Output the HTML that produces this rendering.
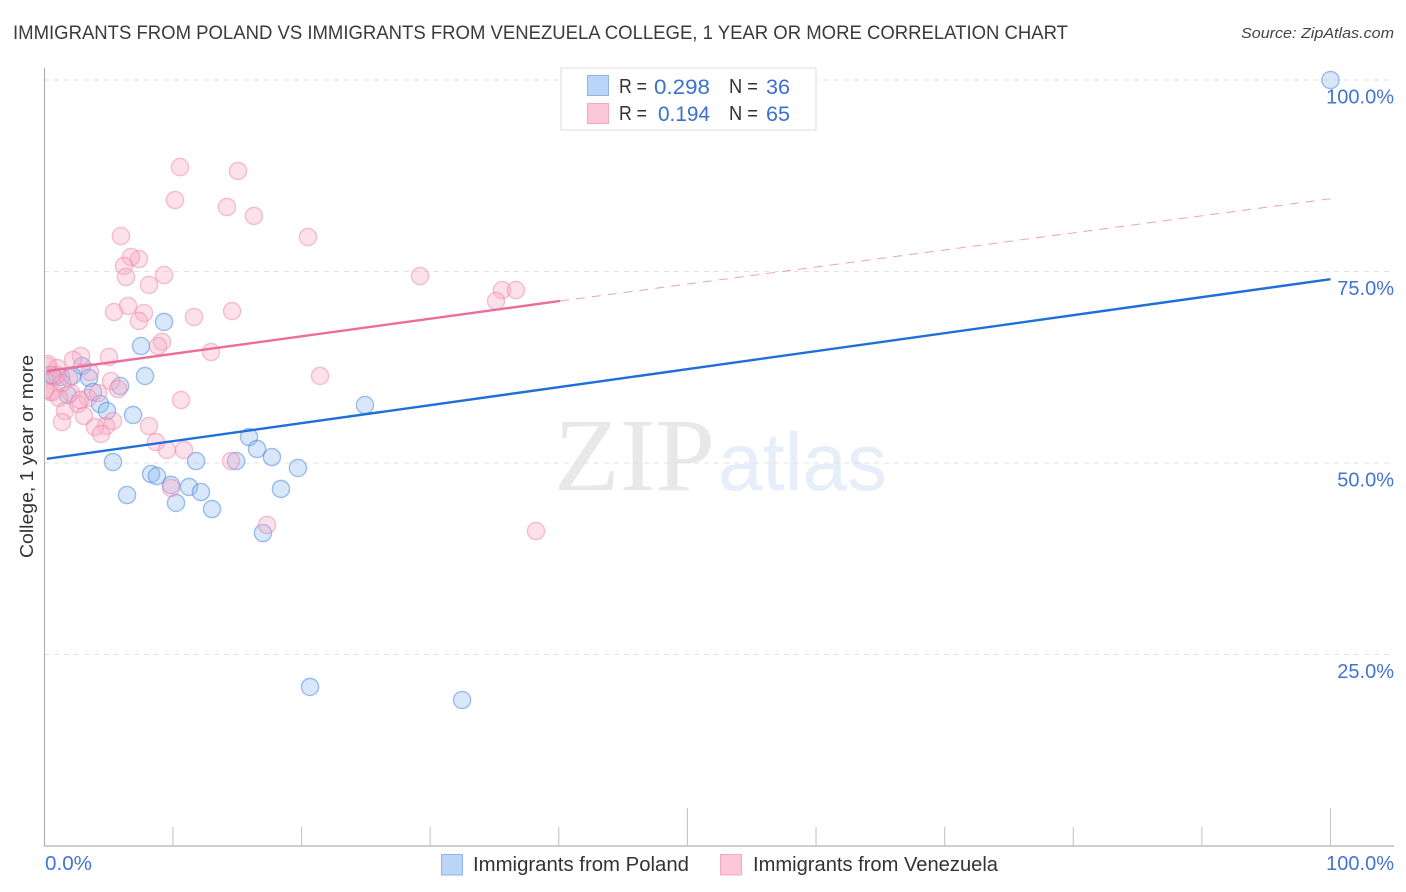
<!DOCTYPE html>
<html lang="en">
<head>
<meta charset="utf-8">
<title>Immigrants from Poland vs Immigrants from Venezuela College Correlation Chart</title>
<style>
  html, body { margin: 0; padding: 0; background: #fff; }
  body { width: 1406px; height: 892px; overflow: hidden; }
  svg { display: block; font-family: "Liberation Sans", sans-serif; }
  .tick-label { fill: #4474d2; font-size: 20px; }
  .legend-text { fill: #333; font-size: 20px; }
  .legend-value { fill: #3a70d0; font-size: 21px; }
</style>
</head>
<body>
<svg id="chart" width="1406" height="892" viewBox="0 0 1406 892" xmlns="http://www.w3.org/2000/svg">
  <defs>
    <clipPath id="plot-clip"><rect x="45.5" y="60" width="1349" height="786"/></clipPath>
  </defs>
  <text x="13" y="39" font-size="19" fill="#3a3a3a" textLength="1055" lengthAdjust="spacingAndGlyphs">IMMIGRANTS FROM POLAND VS IMMIGRANTS FROM VENEZUELA COLLEGE, 1 YEAR OR MORE CORRELATION CHART</text>
  <text x="1241" y="38" font-size="15" font-style="italic" fill="#444" textLength="153" lengthAdjust="spacingAndGlyphs">Source: ZipAtlas.com</text>

  <g id="watermark">
    <text x="554" y="490" font-family="'Liberation Serif', serif" font-size="104" fill="#e8e8e8" textLength="161" lengthAdjust="spacingAndGlyphs">ZIP</text>
    <text x="718" y="490" font-size="82" fill="#e6eefa" textLength="169" lengthAdjust="spacingAndGlyphs">atlas</text>
  </g>

  <g id="grid"></g>
  <g id="axes"></g>
  <g id="points" clip-path="url(#plot-clip)"></g>
  <g id="trends"></g>
  <g id="labels"></g>

  <text transform="translate(33,558) rotate(-90)" font-size="18.5" fill="#333" textLength="203" lengthAdjust="spacingAndGlyphs">College, 1 year or more</text>

  <g>
    <rect x="561" y="68" width="255" height="62" fill="#fff" stroke="#ddd" stroke-width="1"/>
    <rect x="587.5" y="75.5" width="21" height="20" fill="#b9d5f8" stroke="#8fb4e6"/>
    <rect x="587.5" y="103.5" width="21" height="20" fill="#fcc8d9" stroke="#f3a9c2"/>
    <text class="legend-text" x="619" y="93" textLength="28" lengthAdjust="spacingAndGlyphs">R =</text>
    <text class="legend-value" x="654" y="94" textLength="56" lengthAdjust="spacingAndGlyphs">0.298</text>
    <text class="legend-text" x="729" y="93" textLength="29" lengthAdjust="spacingAndGlyphs">N =</text>
    <text class="legend-value" x="766" y="94" textLength="24" lengthAdjust="spacingAndGlyphs">36</text>
    <text class="legend-text" x="619" y="120" textLength="28" lengthAdjust="spacingAndGlyphs">R =</text>
    <text class="legend-value" x="658" y="121" textLength="52" lengthAdjust="spacingAndGlyphs">0.194</text>
    <text class="legend-text" x="729" y="120" textLength="29" lengthAdjust="spacingAndGlyphs">N =</text>
    <text class="legend-value" x="766" y="121" textLength="24" lengthAdjust="spacingAndGlyphs">65</text>
  </g>

  <g>
    <rect x="441.5" y="854.5" width="21" height="20.5" fill="#b9d5f8" stroke="#8fb4e6"/>
    <text x="473" y="871" font-size="20" fill="#333" textLength="216" lengthAdjust="spacingAndGlyphs">Immigrants from Poland</text>
    <rect x="720.5" y="854.5" width="21" height="20.5" fill="#fcc8d9" stroke="#f3a9c2"/>
    <text x="753" y="871" font-size="20" fill="#333" textLength="245" lengthAdjust="spacingAndGlyphs">Immigrants from Venezuela</text>
  </g>
</svg>

<script>
const polandX = [100, 9.31, 7.52, 7.83, 2.93, 3.48, 5.89, 3.79, 1.84, 4.33, 4.87, 6.90, 24.93, 15.92, 16.54, 17.70, 19.72, 5.34, 11.80, 14.91, 8.30, 8.76, 9.85, 11.25, 12.18, 18.40, 6.43, 10.24, 13.04, 17.00, 20.66, 32.48, 0.44, 0.75, 1.30, 2.15];
const polandY = [100, 68.41, 65.27, 61.36, 62.66, 61.10, 60.05, 59.27, 58.88, 57.70, 56.79, 56.27, 57.57, 53.39, 51.83, 50.78, 49.35, 50.13, 50.26, 50.26, 48.56, 48.30, 47.13, 46.87, 46.21, 46.61, 45.82, 44.78, 43.99, 40.86, 20.76, 19.06, 61.49, 61.23, 61.23, 61.36];
const venezuelaX = [10.55, 15.06, 10.16, 14.20, 16.30, 5.96, 20.50, 7.36, 6.74, 6.20, 6.35, 9.31, 8.14, 29.21, 35.59, 36.67, 35.12, 6.51, 5.42, 7.75, 7.36, 11.64, 14.60, 9.15, 8.84, 12.96, 2.85, 2.23, 5.03, 21.44, 3.55, 5.19, 5.73, 10.63, 0.21, 0.99, 0.44, 0.68, 1.92, 2.08, 3.40, 1.14, 1.61, 2.62, 1.38, 3.09, 5.34, 4.80, 3.94, 4.41, 8.14, 8.68, 9.54, 10.86, 14.52, 9.85, 17.32, 38.23, 4.18, 2.78, 0.99, 1.38, 0.60, 0.05, 0.29];
const venezuelaY = [88.64, 88.12, 84.33, 83.42, 82.25, 79.63, 79.50, 76.63, 76.89, 75.72, 74.28, 74.54, 73.24, 74.41, 72.58, 72.58, 71.15, 70.50, 69.71, 69.58, 68.54, 69.06, 69.84, 65.80, 65.27, 64.49, 63.97, 63.45, 63.84, 61.36, 61.88, 60.70, 59.66, 58.22, 62.66, 62.40, 59.27, 59.27, 61.10, 59.14, 58.49, 58.49, 56.79, 57.70, 55.35, 56.14, 55.48, 54.83, 54.70, 53.79, 54.83, 52.74, 51.70, 51.70, 50.26, 46.74, 41.91, 41.12, 59.14, 58.22, 61.49, 60.44, 61.49, 59.53, 62.92];
const polandTrendX = [0.2, 100];
const polandTrendY = [50.55, 74.0];
const venezuelaTrendX = [0.2, 40.1];
const venezuelaTrendY = [62.0, 71.15];
const venezuelaForecastX = [40.1, 100];
const venezuelaForecastY = [71.15, 84.5];
const yTicks = [25, 50, 75, 100];
const yTickLabels = ['25.0%', '50.0%', '75.0%', '100.0%'];
const xTicks = [10, 20, 30, 40, 50, 60, 70, 80, 90, 100];
const xMajorTicks = [50, 100];
const xEndLabels = ['0.0%', '100.0%'];

const NS = 'http://www.w3.org/2000/svg';
const xScale = v => 44.3 + v * 12.862;
const yScale = v => 846 - v * 7.66;

function make(tag, parent, attrs) {
  const el = document.createElementNS(NS, tag);
  for (const k in attrs) el.setAttribute(k, attrs[k]);
  parent.appendChild(el);
  return el;
}

const grid = document.getElementById('grid');
yTicks.forEach(t => {
  const line = make('line', grid, { x1: 44, x2: 1394, y1: yScale(t), y2: yScale(t), stroke: '#e2e2e2', 'stroke-width': 1, 'stroke-dasharray': '5 5' });
  
  
});

const axes = document.getElementById('axes');
const yAxis = make('line', axes, { x1: 44.5, x2: 44.5, y1: 68, y2: 846.5, stroke: '#b0b0b0', 'stroke-width': 1.2 });


const xAxis = make('line', axes, { x1: 44, x2: 1394, y1: 846, y2: 846, stroke: '#b0b0b0', 'stroke-width': 1.2 });


xTicks.forEach(t => {
  const top = xMajorTicks.includes(t) ? 808 : 827;
  const tick = make('line', axes, { x1: xScale(t), x2: xScale(t), y1: top, y2: 846, stroke: '#c6c6c6', 'stroke-width': 1.1 });
  
  
});

const pointsLayer = document.getElementById('points');
function drawSeries(xs, ys, fill, stroke, name) {
  xs.forEach((x, i) => {
    const c = make('circle', pointsLayer, { cx: xScale(x), cy: yScale(ys[i]), r: 8.6, fill: fill, 'fill-opacity': 0.36, stroke: stroke, 'stroke-opacity': 0.48, 'stroke-width': 1.4 });
    
    
  });
}
drawSeries(polandX, polandY, '#93bdf2', '#3f7fdc', 'point-poland');
drawSeries(venezuelaX, venezuelaY, '#f9adc4', '#ea82a6', 'point-venezuela');

const trends = document.getElementById('trends');
function drawLine(xs, ys, attrs, name) {
  const l = make('line', trends, Object.assign({ x1: xScale(xs[0]), y1: yScale(ys[0]), x2: xScale(xs[1]), y2: yScale(ys[1]) }, attrs));
  
  
}
drawLine(polandTrendX, polandTrendY, { stroke: '#1f6fd8', 'stroke-width': 2.4 }, 'trend-line-poland');
drawLine(venezuelaForecastX, venezuelaForecastY, { stroke: '#eea0bb', 'stroke-width': 1, 'stroke-dasharray': '9 7' }, 'trend-forecast-venezuela');
drawLine(venezuelaTrendX, venezuelaTrendY, { stroke: '#ec6d9c', 'stroke-width': 2.4 }, 'trend-line-venezuela');

const labels = document.getElementById('labels');
yTicks.forEach((t, i) => {
  const label = make('text', labels, { x: 1394, y: yScale(t) + 23.5, 'text-anchor': 'end', class: 'tick-label' });
  label.textContent = yTickLabels[i];
  
  
});
const xStart = make('text', labels, { x: 45, y: 870, class: 'tick-label', textLength: 47, lengthAdjust: 'spacingAndGlyphs' });
xStart.textContent = xEndLabels[0];


const xEnd = make('text', labels, { x: 1394, y: 870, 'text-anchor': 'end', class: 'tick-label' });
xEnd.textContent = xEndLabels[1];


</script>
</body>
</html>
